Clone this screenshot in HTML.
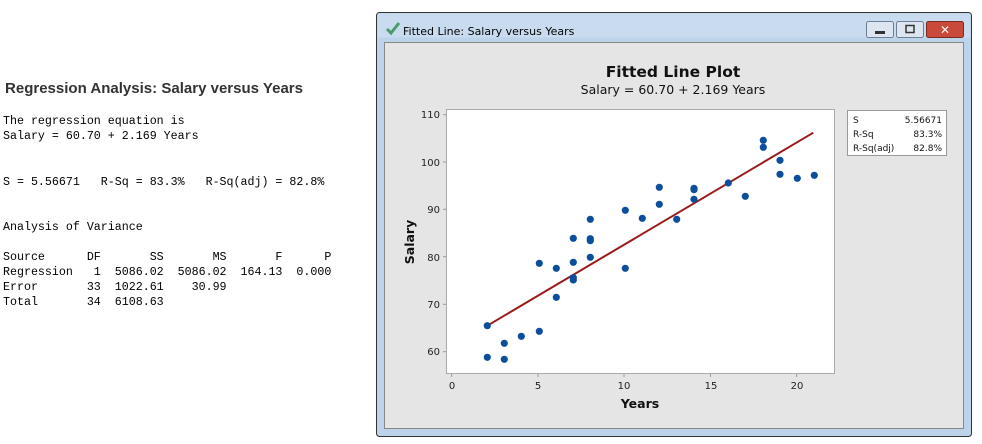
<!DOCTYPE html>
<html><head><style>
body{margin:0;background:#fff;width:982px;height:444px;overflow:hidden}
svg{display:block}
.m{font-family:"Liberation Mono",monospace;font-size:11.65px;fill:#000;white-space:pre}
.s{font-family:"DejaVu Sans","Liberation Sans",sans-serif}
</style></head><body>
<svg width="982" height="444" xmlns="http://www.w3.org/2000/svg">
<rect width="982" height="444" fill="#fff"/>
<text x="5" y="93" font-family="Liberation Sans, sans-serif" font-size="15" font-weight="bold" fill="#333" textLength="298" lengthAdjust="spacingAndGlyphs">Regression Analysis: Salary versus Years</text>
<text class="m" xml:space="preserve"><tspan x="3" y="124">The regression equation is</tspan><tspan x="3" y="139">Salary = 60.70 + 2.169 Years</tspan><tspan x="3" y="185">S = 5.56671   R-Sq = 83.3%   R-Sq(adj) = 82.8%</tspan><tspan x="3" y="230">Analysis of Variance</tspan><tspan x="3" y="260">Source      DF       SS       MS       F      P</tspan><tspan x="3" y="275">Regression   1  5086.02  5086.02  164.13  0.000</tspan><tspan x="3" y="290">Error       33  1022.61    30.99</tspan><tspan x="3" y="305">Total       34  6108.63</tspan></text>
<!-- window -->
<rect x="376.5" y="12.5" width="595" height="424" fill="#bcd3ea" stroke="#333" rx="3"/>
<rect x="377.5" y="13.5" width="593" height="24" fill="#c9dcef"/>
<path d="M387 29 l4 4 l8 -10" stroke="#4a9a6a" stroke-width="3" fill="none"/>
<text x="403" y="35" class="s" font-size="11" fill="#000">Fitted Line: Salary versus Years</text>
<rect x="866.5" y="21.5" width="27" height="16" fill="#dde6f0" stroke="#6f7f95" rx="2"/>
<rect x="875" y="31" width="10" height="3" fill="#333"/>
<rect x="896.5" y="21.5" width="27" height="16" fill="#dde6f0" stroke="#6f7f95" rx="2"/>
<rect x="906" y="25.5" width="8" height="7" fill="none" stroke="#333" stroke-width="1.5"/>
<rect x="926.5" y="21.5" width="37" height="16" fill="#c94a3a" stroke="#7a2a20" rx="2"/>
<text x="945" y="34" class="s" font-size="12" font-weight="bold" fill="#fff" text-anchor="middle">✕</text>
<rect x="384.5" y="42.5" width="579" height="386" fill="#e5e5e5" stroke="#888"/>
<text x="673" y="77" class="s" font-size="15.5" font-weight="bold" text-anchor="middle" fill="#111">Fitted Line Plot</text>
<text x="673" y="94" class="s" font-size="12.5" text-anchor="middle" fill="#111">Salary = 60.70 + 2.169 Years</text>
<rect x="446.5" y="109.5" width="388" height="264" fill="#fff" stroke="#aaa"/>
<g class="s" font-size="10" fill="#222" text-anchor="end">
<text x="440" y="118">110</text><text x="440" y="166">100</text><text x="440" y="213">90</text><text x="440" y="261">80</text><text x="440" y="308">70</text><text x="440" y="355">60</text>
</g>
<g stroke="#999"><line x1="443" y1="114.7" x2="446" y2="114.7"/><line x1="443" y1="162" x2="446" y2="162"/><line x1="443" y1="209.3" x2="446" y2="209.3"/><line x1="443" y1="256.7" x2="446" y2="256.7"/><line x1="443" y1="304.3" x2="446" y2="304.3"/><line x1="443" y1="351.7" x2="446" y2="351.7"/>
<line x1="451.7" y1="374" x2="451.7" y2="377"/><line x1="538" y1="374" x2="538" y2="377"/><line x1="624" y1="374" x2="624" y2="377"/><line x1="710.5" y1="374" x2="710.5" y2="377"/><line x1="796.7" y1="374" x2="796.7" y2="377"/></g>
<g class="s" font-size="10" fill="#222" text-anchor="middle">
<text x="452" y="389">0</text><text x="538" y="389">5</text><text x="624" y="389">10</text><text x="711" y="389">15</text><text x="797" y="389">20</text>
</g>
<text x="640" y="408" class="s" font-size="12.5" font-weight="bold" text-anchor="middle" fill="#111">Years</text>
<text transform="translate(414,242) rotate(-90)" class="s" font-size="12.5" font-weight="bold" text-anchor="middle" fill="#111">Salary</text>
<line x1="487.3" y1="325.7" x2="813.3" y2="132.7" stroke="#9b1b1b" stroke-width="2"/>
<g fill="#0b4f9c">
<circle cx="487.3" cy="325.7" r="3.6"/><circle cx="487.3" cy="357.3" r="3.6"/><circle cx="504.3" cy="343.3" r="3.6"/><circle cx="504.3" cy="359.3" r="3.6"/><circle cx="521.3" cy="336.3" r="3.6"/><circle cx="539.3" cy="263.3" r="3.6"/><circle cx="539.3" cy="331.3" r="3.6"/><circle cx="556.3" cy="268.3" r="3.6"/><circle cx="556.3" cy="297.3" r="3.6"/><circle cx="573.3" cy="238.3" r="3.6"/><circle cx="573.3" cy="262.3" r="3.6"/><circle cx="573.3" cy="277.7" r="3.6"/><circle cx="573.3" cy="280" r="3.6"/><circle cx="590.3" cy="219.3" r="3.6"/><circle cx="590.3" cy="238.7" r="3.6"/><circle cx="590.3" cy="240.7" r="3.6"/><circle cx="590.3" cy="257.3" r="3.6"/><circle cx="625.3" cy="210.3" r="3.6"/><circle cx="625.3" cy="268.3" r="3.6"/><circle cx="642.3" cy="218.3" r="3.6"/><circle cx="659.3" cy="187.3" r="3.6"/><circle cx="659.3" cy="204.3" r="3.6"/><circle cx="676.7" cy="219.3" r="3.6"/><circle cx="694" cy="188.3" r="3.6"/><circle cx="694" cy="189.7" r="3.6"/><circle cx="694" cy="199.3" r="3.6"/><circle cx="728.3" cy="183" r="3.6"/><circle cx="745.3" cy="196.3" r="3.6"/><circle cx="763.3" cy="140.3" r="3.6"/><circle cx="763.3" cy="147.3" r="3.6"/><circle cx="780" cy="160.3" r="3.6"/><circle cx="780" cy="174.3" r="3.6"/><circle cx="797.3" cy="178.3" r="3.6"/><circle cx="814.3" cy="175.3" r="3.6"/>
</g>
<rect x="847.5" y="110.5" width="99" height="45" fill="#fff" stroke="#999"/>
<g class="s" font-size="9" fill="#111">
<text x="853" y="123">S</text><text x="853" y="137">R-Sq</text><text x="853" y="151">R-Sq(adj)</text>
</g>
<g class="s" font-size="9" fill="#111" text-anchor="end">
<text x="942" y="123">5.56671</text><text x="942" y="137">83.3%</text><text x="942" y="151">82.8%</text>
</g>
</svg>
</body></html>
